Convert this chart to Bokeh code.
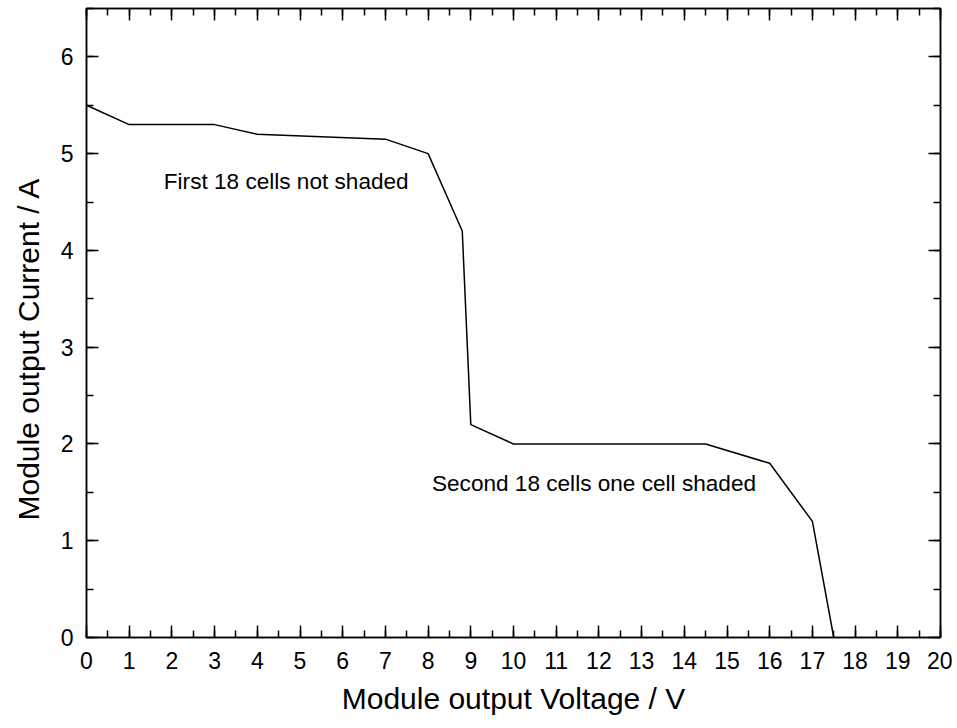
from bokeh.plotting import figure
from bokeh.models import (LinearAxis, SingleIntervalTicker, Range1d, Label,
                          CustomJSTickFormatter, Title)
from bokeh.embed import file_html
from bokeh.resources import INLINE

# ---- data ----
voltage = [0, 1, 3, 4, 7, 8, 8.8, 9, 10, 14.5, 16, 17, 17.5]
current = [5.5, 5.3, 5.3, 5.2, 5.15, 5.0, 4.2, 2.2, 2.0, 2.0, 1.8, 1.2, 0.0]

x_label = "Module output Voltage / V"
y_label = "Module output Current / A"
note_1 = "First 18 cells not shaded"
note_1_pos = (1.81, 4.71)
note_2 = "Second 18 cells one cell shaded"
note_2_pos = (8.09, 1.59)

FONT = "Liberation Sans"

p = figure(width=952, height=720, output_backend="svg", toolbar_location=None,
           x_range=Range1d(0, 20), y_range=Range1d(0, 6.5),
           x_axis_type=None, y_axis_type=None,
           min_border_left=86, min_border_right=12, min_border_top=8,
           min_border_bottom=83)
p.grid.visible = False
p.outline_line_color = "black"
p.outline_line_width = 1.5
p.background_fill_color = "white"
p.border_fill_color = "white"


def style(ax, show_labels=True):
    ax.axis_line_width = 1.5
    ax.axis_line_color = "black"
    ax.major_tick_in = 12
    ax.major_tick_out = 0
    ax.minor_tick_in = 7
    ax.minor_tick_out = 0
    ax.major_tick_line_width = 1.5
    ax.minor_tick_line_width = 1.5
    ax.major_tick_line_color = "black"
    ax.minor_tick_line_color = "black"
    ax.major_label_text_font = FONT
    ax.major_label_text_color = "black"
    if show_labels:
        ax.major_label_text_font_size = "23px"
    else:
        ax.major_label_text_font_size = "0px"
        ax.major_label_standoff = 0
        ax.formatter = CustomJSTickFormatter(code="return ''")


xb = LinearAxis(ticker=SingleIntervalTicker(interval=1, num_minor_ticks=2))
style(xb)
xb.major_label_standoff = 14
xb.axis_label = x_label
xb.axis_label_text_font = FONT
xb.axis_label_text_font_size = "30px"
xb.axis_label_text_font_style = "normal"
xb.axis_label_text_color = "black"
xb.axis_label_standoff = 10
p.add_layout(xb, "below")

yl = LinearAxis(ticker=SingleIntervalTicker(interval=1, num_minor_ticks=2))
style(yl)
yl.major_label_standoff = 13
p.add_layout(yl, "left")

# y-axis title as a side title, so that it can sit lower than the frame centre
ytitle = Title(text=y_label, align="left", offset=117, vertical_align="top",
               standoff=22, text_font=FONT, text_font_size="30px",
               text_font_style="normal", text_color="black")
p.add_layout(ytitle, "left")

xt = LinearAxis(ticker=SingleIntervalTicker(interval=1, num_minor_ticks=2))
style(xt, show_labels=False)
p.add_layout(xt, "above")

yr = LinearAxis(ticker=SingleIntervalTicker(interval=1, num_minor_ticks=2))
style(yr, show_labels=False)
p.add_layout(yr, "right")

p.line(voltage, current, line_color="black", line_width=1.5)

for txt, (tx, ty) in [(note_1, note_1_pos), (note_2, note_2_pos)]:
    p.add_layout(Label(x=tx, y=ty, text=txt, text_font=FONT,
                       text_font_size="22.6px", text_align="left",
                       text_baseline="middle", text_color="black"))

open("out.html", "w").write(file_html(p, INLINE))
